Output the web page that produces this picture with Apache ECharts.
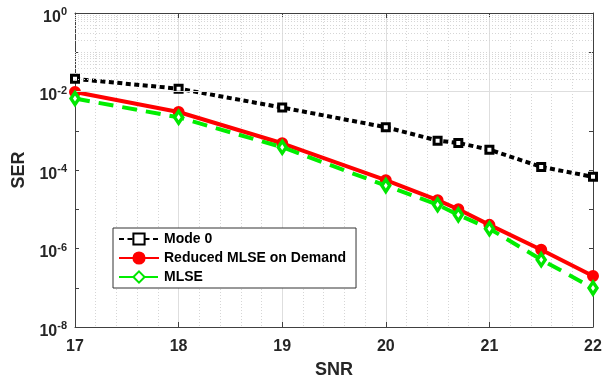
<!DOCTYPE html>
<html>
<head>
<meta charset="utf-8">
<script src="https://cdn.jsdelivr.net/npm/echarts@6/dist/echarts.min.js"></script>
<style>
html,body{margin:0;padding:0;background:#fff;}
#c{width:615px;height:384px;}
</style>
</head>
<body>
<div id="c"></div>
<script>
var snr = [17, 18, 19, 20, 20.5, 20.7, 21, 21.5, 22];
var mode0 = [2.1e-2, 1.18e-2, 3.9e-3, 1.23e-3, 5.6e-4, 4.9e-4, 3.3e-4, 1.2e-4, 6.7e-5];
var reduced = [9.7e-3, 3.0e-3, 4.8e-4, 5.5e-5, 1.7e-5, 1.0e-5, 4.0e-6, 9.3e-7, 2.0e-7];
var mlse = [6.6e-3, 2.2e-3, 3.8e-4, 4.0e-5, 1.3e-5, 7.2e-6, 3.2e-6, 5.2e-7, 9.8e-8];
var seriesNames = ['Mode 0', 'Reduced MLSE on Demand', 'MLSE'];
var xTicks = [17, 18, 19, 20, 21, 22];
var yDecades = [-8, -7, -6, -5, -4, -3, -2, -1, 0];

function pairs(xs, ys) { return xs.map(function (x, i) { return [x, ys[i]]; }); }

var majorStyle = { color: '#dedede', width: 1, type: 'solid' };
var minorStyle = { color: '#d6d6d6', width: 1, type: [1, 2] };

// horizontal grid for the log axis: solid at labelled decades, dotted elsewhere
var gridLines = [];
yDecades.forEach(function (d) {
  if (d % 2 === 0) {
    if (d > -8 && d < 0) gridLines.push({ yAxis: Math.pow(10, d), lineStyle: majorStyle });
  } else {
    gridLines.push({ yAxis: Math.pow(10, d), lineStyle: minorStyle });
  }
  if (d < 0) {
    for (var k = 2; k <= 9; k++) gridLines.push({ yAxis: k * Math.pow(10, d), lineStyle: minorStyle });
  }
});

var font = '"Liberation Sans", Arial, sans-serif';
var txt = '#262626';
var axisCol = '#404040';

var chart = echarts.init(document.getElementById('c'), null, { renderer: 'canvas' });
chart.setOption({
  animation: false,
  backgroundColor: '#ffffff',
  grid: { left: 75, right: 22, top: 13, bottom: 54 },
  textStyle: { fontFamily: font },
  legend: {
    orient: 'vertical',
    left: 113, top: 228,
    data: seriesNames,
    backgroundColor: '#ffffff',
    borderColor: '#333333', borderWidth: 1, borderRadius: 0,
    padding: [4, 10, 4, 5],
    itemWidth: 40, itemHeight: 14, itemGap: 5,
    textStyle: { fontFamily: font, fontWeight: 'bold', fontSize: 14, color: '#000' },
    selectedMode: false
  },
  xAxis: [{
    type: 'value', min: 17, max: 22, interval: 1,
    name: 'SNR', nameLocation: 'middle', nameGap: 34,
    nameTextStyle: { fontFamily: font, fontWeight: 'bold', fontSize: 18, color: txt },
    axisLine: { show: true, onZero: false, lineStyle: { color: axisCol, width: 1 } },
    axisTick: { show: true, inside: true, length: 5, lineStyle: { color: axisCol } },
    axisLabel: { fontFamily: font, fontWeight: 'bold', fontSize: 16, color: txt, margin: 12 },
    splitLine: { show: true, lineStyle: { color: '#dedede', width: 1 } },
    minorTick: { show: false, splitNumber: 5 },
    minorSplitLine: { show: true, lineStyle: { color: '#d6d6d6', width: 1, type: [1, 2] } }
  }, {
    type: 'value', min: 17, max: 22, interval: 1, position: 'top',
    axisLine: { show: true, onZero: false, lineStyle: { color: axisCol, width: 1 } },
    axisTick: { show: true, inside: true, length: 5, lineStyle: { color: axisCol } },
    axisLabel: { show: false }, splitLine: { show: false }
  }],
  yAxis: [{
    type: 'log', logBase: 10, min: 1e-8, max: 1, splitNumber: 8,
    name: 'SER', nameLocation: 'middle', nameGap: 44, nameRotate: 90,
    nameTextStyle: { fontFamily: font, fontWeight: 'bold', fontSize: 18, color: txt },
    axisLine: { show: true, onZero: false, lineStyle: { color: axisCol, width: 1 } },
    axisTick: { show: true, inside: true, length: 4, lineStyle: { color: axisCol } },
    axisLabel: {
      margin: 8,
      formatter: function (v) {
        var e = Math.round(Math.log(v) / Math.LN10);
        if (e % 2 !== 0) return '';
        return '{b|10}{s|' + String(e) + '}';
      },
      rich: {
        b: { fontFamily: font, fontWeight: 'bold', fontSize: 16, color: txt, padding: [9, 0, 0, 0] },
        s: { fontFamily: font, fontWeight: 'bold', fontSize: 11, color: txt, padding: [0, 0, 2, 0] }
      }
    },
    splitLine: { show: false }
  }, {
    type: 'log', logBase: 10, min: 1e-8, max: 1, splitNumber: 8, position: 'right',
    axisLine: { show: true, onZero: false, lineStyle: { color: axisCol, width: 1 } },
    axisTick: { show: true, inside: true, length: 4, lineStyle: { color: axisCol } },
    axisLabel: { show: false }, splitLine: { show: false }
  }],
  series: [{
    type: 'line', data: [], silent: true, z: 1,
    markLine: {
      silent: true, symbol: ['none', 'none'], animation: false,
      label: { show: false },
      lineStyle: minorStyle,
      data: gridLines
    }
  }, {
    name: seriesNames[0], type: 'line', data: pairs(snr, mode0), z: 3,
    symbol: 'rect', symbolSize: 7,
    lineStyle: { color: '#000', width: 4, type: [5, 3.5] },
    itemStyle: { color: '#ffffff', borderColor: '#000', borderWidth: 3 }
  }, {
    name: seriesNames[1], type: 'line', data: pairs(snr, reduced), z: 4,
    symbol: 'circle', symbolSize: 10,
    lineStyle: { color: '#ff0000', width: 4 },
    itemStyle: { color: '#ff0000', borderColor: '#ff0000', borderWidth: 2 }
  }, {
    name: seriesNames[2], type: 'line', data: pairs(snr, mlse), z: 5,
    symbol: 'diamond', symbolSize: [8, 12],
    lineStyle: { color: '#00ee00', width: 4, type: [15, 9] },
    itemStyle: { color: '#ffffff', borderColor: '#00e600', borderWidth: 3.5 }
  }]
});
</script>
</body>
</html>
